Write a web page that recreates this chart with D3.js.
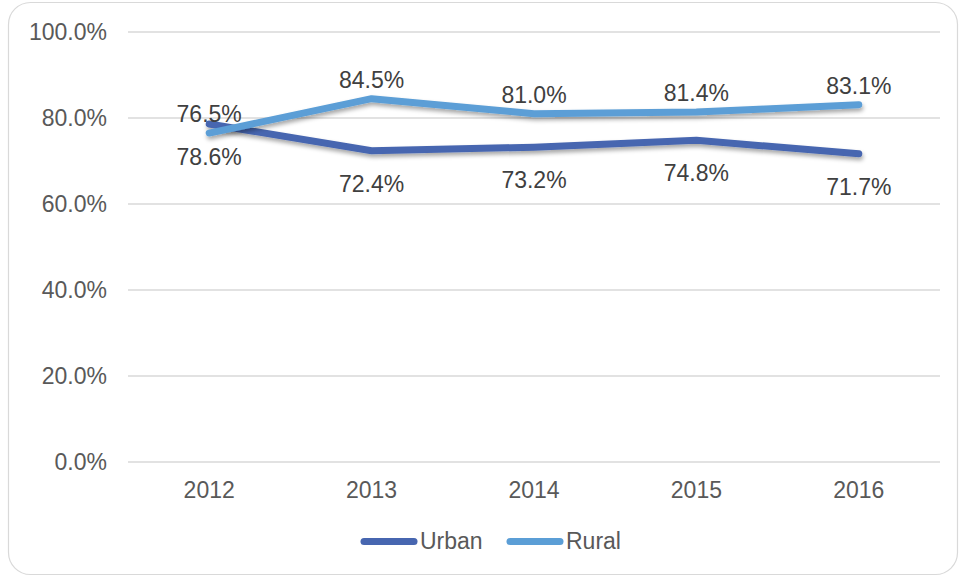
<!DOCTYPE html>
<html>
<head>
<meta charset="utf-8">
<script src="https://cdn.jsdelivr.net/npm/d3@7"></script>
<style>
    body { margin: 0; background: #fff; }
    text { font-family: "Liberation Sans", Arial, sans-serif; }
</style>
</head>
<body>
<div id="main_div" style="width:959px;height:577px"></div>
<script>
/** data **/
const years = ["2012", "2013", "2014", "2015", "2016"];
const urban = [78.6, 72.4, 73.2, 74.8, 71.7];
const rural = [76.5, 84.5, 81.0, 81.4, 83.1];
const yTicks = [0, 20, 40, 60, 80, 100];
const seriesNames = ["Urban", "Rural"];
const colors = ["#4766b0", "#5b9ed6"];

let size = [959, 577];
let svg = d3.select("#main_div").append("svg")
    .attr("width", size[0]).attr("height", size[1]);

// shadow for lines
let defs = svg.append("defs");
let f = defs.append("filter").attr("id", "shadow")
    .attr("x", "-10%").attr("y", "-50%").attr("width", "120%").attr("height", "200%");
f.append("feDropShadow").attr("dx", 1).attr("dy", 3).attr("stdDeviation", 2)
    .attr("flood-color", "#000").attr("flood-opacity", 0.35);

// outer border
svg.append("rect")
    .attr("x", 8.5).attr("y", 2.5)
    .attr("width", 949).attr("height", 572)
    .attr("rx", 22)
    .attr("fill", "#fff").attr("stroke", "#d9d9d9").attr("stroke-width", 1.2);

let xScale = d3.scaleBand().domain(years).range([128, 940]);
let yScale = d3.scaleLinear().domain([0, 100]).range([462, 32]);

// grid lines
svg.append("g").selectAll("line")
    .data(yTicks).enter().append("line")
    .attr("x1", 128).attr("x2", 940)
    .attr("y1", d => yScale(d)).attr("y2", d => yScale(d))
    .attr("stroke", "#d9d9d9").attr("stroke-width", 1.3);

// y labels
svg.append("g").selectAll("text")
    .data(yTicks).enter().append("text")
    .attr("x", 107).attr("y", d => yScale(d) + 8)
    .attr("text-anchor", "end")
    .attr("font-size", 23).attr("fill", "#595959")
    .text(d => d3.format(".1f")(d) + "%");

// x labels
svg.append("g").selectAll("text")
    .data(years).enter().append("text")
    .attr("x", d => xScale(d) + xScale.bandwidth() / 2)
    .attr("y", 498)
    .attr("text-anchor", "middle")
    .attr("font-size", 23).attr("fill", "#595959")
    .text(d => d);

let line = d3.line()
    .x((d, i) => xScale(years[i]) + xScale.bandwidth() / 2)
    .y(d => yScale(d));

[urban, rural].forEach(function (vals, k) {
    svg.append("path")
        .attr("d", line(vals))
        .attr("fill", "none")
        .attr("stroke", colors[k])
        .attr("stroke-width", 7)
        .attr("stroke-linecap", "round")
        .attr("stroke-linejoin", "round")
        .attr("filter", "url(#shadow)");
});

// data labels: urban below, rural above
svg.append("g").selectAll("text")
    .data(urban).enter().append("text")
    .attr("x", (d, i) => xScale(years[i]) + xScale.bandwidth() / 2)
    .attr("y", d => yScale(d) + 41)
    .attr("text-anchor", "middle")
    .attr("font-size", 23).attr("fill", "#404040")
    .text(d => d.toFixed(1) + "%");

svg.append("g").selectAll("text")
    .data(rural).enter().append("text")
    .attr("x", (d, i) => xScale(years[i]) + xScale.bandwidth() / 2)
    .attr("y", d => yScale(d) - 11)
    .attr("text-anchor", "middle")
    .attr("font-size", 23).attr("fill", "#404040")
    .text(d => d.toFixed(1) + "%");

// legend
let legendX = [361, 507];
seriesNames.forEach(function (name, k) {
    svg.append("line")
        .attr("x1", legendX[k] + 3).attr("x2", legendX[k] + 53)
        .attr("y1", 541.5).attr("y2", 541.5)
        .attr("stroke", colors[k]).attr("stroke-width", 7)
        .attr("stroke-linecap", "round");
    svg.append("text")
        .attr("x", legendX[k] + 59).attr("y", 549)
        .attr("font-size", 23).attr("fill", "#595959")
        .text(name);
});
</script>
</body>
</html>
